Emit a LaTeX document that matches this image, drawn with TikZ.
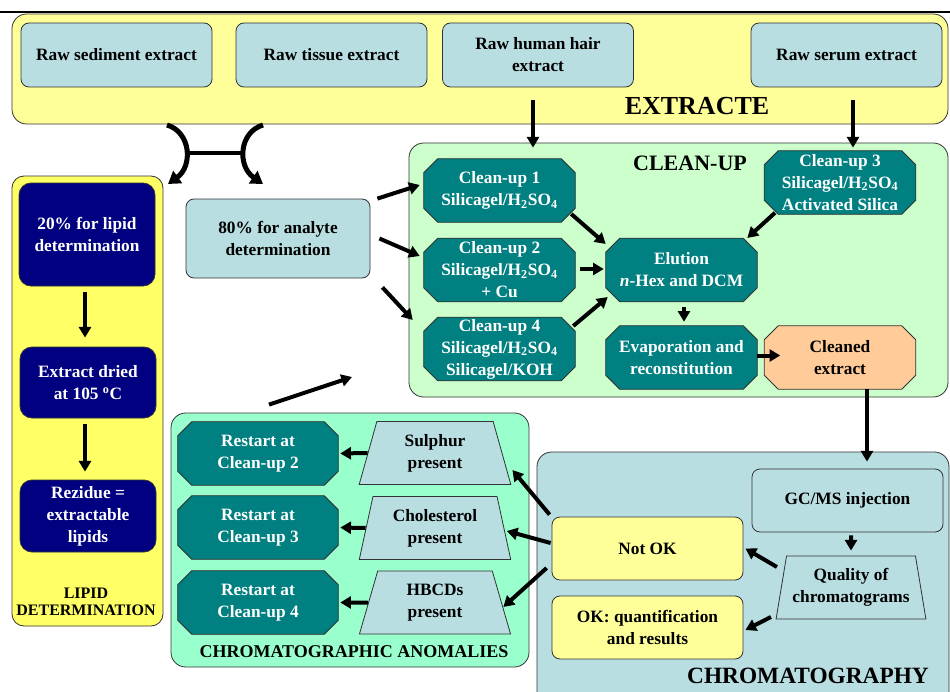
\documentclass[tikz,border=0pt]{standalone}
\usepackage{fontspec}
\setmainfont{Liberation Serif}
\usepackage{tikz}
\usetikzlibrary{positioning,arrows.meta,shapes.geometric}
\definecolor{paleyellow}{HTML}{FFFF99}
\definecolor{lipidyellow}{HTML}{FFFF66}
\definecolor{paleblue}{HTML}{B8DEE2}
\definecolor{mintgreen}{HTML}{CCFFCC}
\definecolor{seagreen}{HTML}{99FFCC}
\definecolor{tealbox}{HTML}{008080}
\definecolor{navybox}{HTML}{000080}
\definecolor{peach}{HTML}{FFCC99}

\newcommand{\hsso}{H\textsubscript{2}SO\textsubscript{4}}

\begin{document}
\begin{tikzpicture}[
		x=0.75pt, y=-0.75pt,
		every node/.style={
			align=center,
			inner sep=1pt,
			font=\bfseries\fontsize{13}{16.5}\selectfont
		},
		region/.style={draw=black!80, line width=0.6pt, rounded corners=11pt},
		plainbox/.style={draw=black!80, line width=0.6pt, rounded corners=6pt},
		rawbox/.style={plainbox, fill=paleblue, minimum width=143.25pt, minimum height=48pt},
		lipbox/.style={plainbox, rounded corners=9pt, fill=navybox, text=white, minimum width=102pt},
		octo/.style={minimum width=113.25pt, minimum height=47.25pt,
			append after command={\pgfextra{\let\octnode\tikzlastnode
				\filldraw[fill=#1, draw=black!80, line width=0.6pt]
					([shift={(14,0)}]\octnode.north west) -- ([shift={(-14,0)}]\octnode.north east)
					-- ([shift={(0,14)}]\octnode.north east) -- ([shift={(0,-14)}]\octnode.south east)
					-- ([shift={(-14,0)}]\octnode.south east) -- ([shift={(14,0)}]\octnode.south west)
					-- ([shift={(0,-14)}]\octnode.south west) -- ([shift={(0,14)}]\octnode.north west) -- cycle;}}},
		octo/.default=tealbox,
		octotext/.style={text=white},
		trap/.style={trapezium, trapezium left angle=76.6, trapezium right angle=76.6, trapezium stretches=true,
			draw=black!80, line width=0.6pt, fill=paleblue, minimum width=114pt, minimum height=47.25pt},
		arr/.style={line width=3pt, -{Triangle[length=8pt,width=9pt]}},
		curvy/.style={line width=3.75pt, -{Triangle[length=9pt,width=11pt]}}
		]
		
		\useasboundingbox (0,0) rectangle (950,692);
		\fill[white] (0,0) rectangle (950,692);
		\draw[line width=1.5pt] (0,12) -- (950,12);
		
		\node[region, fill=paleyellow, minimum width=702pt, minimum height=82.5pt] (extracte) at (480,69) {};
		\node[region, rounded corners=9pt, fill=lipidyellow, minimum width=113.25pt, minimum height=337.5pt] (lipid) at (87.5,401) {};
		\node[region, fill=mintgreen, minimum width=404.25pt, minimum height=190.5pt] (cleanup) at (678.5,270) {};
		\node[region, fill=paleblue, minimum width=309pt, minimum height=193.5pt] (chroma) at (743,581) {};
		\node[region, fill=seagreen, minimum width=268.5pt, minimum height=190.5pt] (anom) at (350,540) {};
		
		\node[font=\bfseries\fontsize{19.5}{22}\selectfont] (extracttitle) at (697,106) {EXTRACTE};
		\node[font=\bfseries\fontsize{16.5}{19}\selectfont] (cleanuptitle) at (690,163) {CLEAN-UP};
		\node[font=\bfseries\fontsize{17.5}{20}\selectfont] (chromatitle) at (808,676) {CHROMATOGRAPHY};
		\node[font=\bfseries\fontsize{13.5}{15}\selectfont] (anomtitle) at (354,652) {CHROMATOGRAPHIC ANOMALIES};
		\node[font=\bfseries\fontsize{12}{12.75}\selectfont] (lipidtitle) at (86,602) {LIPID\\DETERMINATION};
		
		\node[rawbox] (rawsed) at (116.5,55) {Raw sediment extract};
		\node[rawbox] (rawtis) at (331.5,55) {Raw tissue extract};
		\node[rawbox] (rawhair) at (538,55) {Raw human hair\\extract};
		\node[rawbox] (rawser) at (846.5,55) {Raw serum extract};
		
		\node[lipbox, minimum height=77.25pt] (lip1) at (87,234.5) {20\% for lipid\\determination};
		\node[lipbox, minimum height=53.25pt] (lip2) at (88,382.5) {Extract dried\\at 105 \textsuperscript{o}C};
		\node[lipbox, minimum height=54pt] (lip3) at (88,516) {Rezidue =\\extractable\\lipids};
		
		\node[rawbox, minimum width=138pt, minimum height=59.25pt] (ana) at (278,238.5) {80\% for analyte\\determination};
		
		\node[octo, label={[octotext]center:Clean-up 1\\Silicagel/\hsso}] (cu1) at (499.5,190.5) {};
		\node[octo, label={[octotext]center:Clean-up 2\\Silicagel/\hsso\\+ Cu}] (cu2) at (499.5,270) {};
		\node[octo, label={[octotext]center:Clean-up 4\\Silicagel/\hsso\\Silicagel/KOH}] (cu4) at (499.5,349) {};
		\node[octo, label={[octotext]center:Clean-up 3\\Silicagel/\hsso\\Activated Silica}] (cu3) at (840,182.5) {};
		\node[octo, label={[octotext]center:Elution\\\textit{n}-Hex and DCM}] (elution) at (681.5,270) {};
		\node[octo, label={[octotext]center:Evaporation and\\reconstitution}] (evap) at (681.5,357.5) {};
		\node[octo=peach, label={center:Cleaned\\extract}] (cleaned) at (840,357.5) {};
		
		\node[rawbox, minimum height=47.25pt] (gcms) at (847.5,500.5) {GC/MS injection};
		\node[trap, minimum width=112.5pt] (quality) at (851,587.5) {Quality of\\chromatograms};
		\node[plainbox, fill=paleyellow, minimum width=143.25pt, minimum height=47.25pt] (notok) at (647.5,548.5) {Not OK};
		\node[plainbox, fill=paleyellow, minimum width=143.25pt, minimum height=47.25pt] (ok) at (647.5,627.5) {OK: quantification\\and results};
		
		\node[octo, minimum width=120pt, label={[octotext]center:Restart at\\Clean-up 2}] (rs2) at (258,453.5) {};
		\node[octo, minimum width=120pt, label={[octotext]center:Restart at\\Clean-up 3}] (rs3) at (258,527.5) {};
		\node[octo, minimum width=120pt, label={[octotext]center:Restart at\\Clean-up 4}] (rs4) at (258,602.5) {};
		\node[trap] (sulphur) at (435,453) {Sulphur\\present};
		\node[trap] (chol) at (435,528) {Cholesterol\\present};
		\node[trap] (hbcd) at (435,602.5) {HBCDs\\present};
		
		\coordinate (splitl) at (167,125);
		\coordinate (splitr) at (263,125);
		\coordinate (lipidin) at (168,184);
		\coordinate (analytein) at (263,184);
		\coordinate (loopback) at (352,377);
		
		\draw[curvy] (splitl) .. controls (191,132) and (193,166) .. (lipidin);
		\draw[curvy] (splitr) .. controls (239,132) and (237,166) .. (analytein);
		\draw[line width=3pt] (185,153) -- (245,153);
		
		\draw[arr] ([shift={(-5,13)}]rawhair.south) -- ([shift={(-5,5)}]rawhair.south |- cleanup.north);
		\draw[arr] ([shift={(6.5,13)}]rawser.south) -- ([shift={(6.5,5)}]rawser.south |- cleanup.north);
		
		\draw[arr] ([shift={(-2,6)}]lip1.south) -- ([shift={(-3,-9)}]lip2.north);
		\draw[arr] ([shift={(-3,6)}]lip2.south) -- ([shift={(-3,-8)}]lip3.north);
		
		\draw[arr] ([shift={(7,0)}]ana.north east) -- ([shift={(-4,-5.5)}]cu1.west);
		\draw[arr] ([shift={(9,0)}]ana.east) -- ([shift={(-4,-14)}]cu2.west);
		\draw[arr] ([shift={(12,9)}]ana.south east) -- ([shift={(-11,-29)}]cu4.west);
		
		\draw[arr] ([shift={(-4,23.5)}]cu1.east) -- ([shift={(0,-26)}]elution.west);
		\draw[arr] ([shift={(5,-1)}]cu2.east) -- ([shift={(-2,-1)}]elution.west);
		\draw[arr] ([shift={(-2,-23)}]cu4.east) -- ([shift={(2,27)}]elution.west);
		\draw[arr] ([shift={(-65,-1.5)}]cu3.south) -- ([shift={(-10,-32)}]elution.east);
		\draw[arr] ([shift={(2.5,5)}]elution.south) -- ([shift={(2.5,-4)}]evap.north);
		\draw[arr] ([shift={(0,-2)}]evap.east) -- ([shift={(16,-2)}]cleaned.west);
		\draw[arr] ([shift={(27,0)}]cleaned.south) -- ([shift={(27,10)}]cleaned.south |- chroma.north);
		
		\draw[arr] ([shift={(3.5,3)}]gcms.south) -- ([shift={(0,-5)}]quality.north);
		\draw[arr] ([shift={(-4,-20.5)}]quality.west) -- ([shift={(2,0)}]notok.east);
		\draw[arr] ([shift={(-10,29.5)}]quality.west) -- ([shift={(2,2.5)}]ok.east);
		
		\draw[arr] ([shift={(-2,-2)}]notok.north west) -- ([shift={(10,17)}]sulphur.east);
		\draw[arr] ([shift={(-1,-5.5)}]notok.west) -- ([shift={(2.5,3)}]chol.east);
		\draw[arr] ([shift={(-5,19.5)}]notok.west) -- ([shift={(1.5,4.5)}]hbcd.east);
		
		\draw[arr, shorten >=1.5pt] (sulphur.west) -- (rs2.east);
		\draw[arr, shorten >=1.5pt] (chol.west) -- (rs3.east);
		\draw[arr, shorten >=1.5pt] (hbcd.west) -- (rs4.east);
		
		\draw[arr] ([shift={(-81,-8)}]anom.north) -- (loopback);
		
	\end{tikzpicture}
\end{document}
